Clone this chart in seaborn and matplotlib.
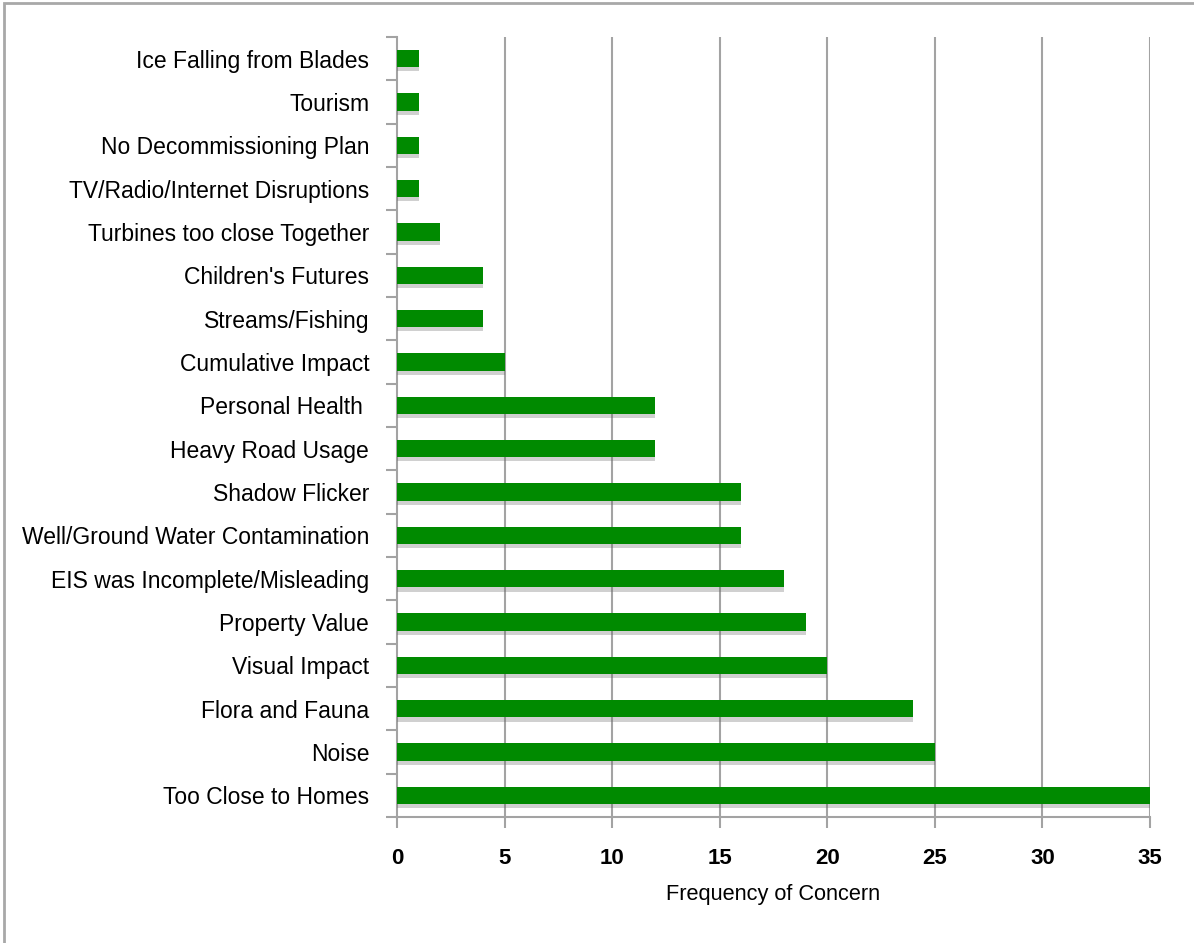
import matplotlib
matplotlib.use("Agg")
import matplotlib.pyplot as plt
import matplotlib.patheffects as pe
from matplotlib.ticker import FixedLocator
import seaborn as sns
import pandas as pd
import numpy as np

concerns = [
    "Ice Falling from Blades",
    "Tourism",
    "No Decommissioning Plan",
    "TV/Radio/Internet Disruptions",
    "Turbines too close Together",
    "Children's Futures",
    "Streams/Fishing",
    "Cumulative Impact",
    "Personal Health ",
    "Heavy Road Usage",
    "Shadow Flicker",
    "Well/Ground Water Contamination",
    "EIS was Incomplete/Misleading",
    "Property Value",
    "Visual Impact",
    "Flora and Fauna",
    "Noise",
    "Too Close to Homes",
]
frequency = [1, 1, 1, 1, 2, 4, 4, 5, 12, 12, 16, 16, 18, 19, 20, 24, 25, 35]
x_ticks = [0, 5, 10, 15, 20, 25, 30, 35]

df = pd.DataFrame({"concern": concerns, "frequency": frequency})

sns.set_style("white")
plt.rcParams["font.family"] = ["Liberation Sans", "DejaVu Sans"]
plt.rcParams["text.color"] = "black"
plt.rcParams["xtick.color"] = "black"
plt.rcParams["ytick.color"] = "black"
plt.rcParams["axes.labelcolor"] = "black"

fig = plt.figure(figsize=(11.94, 9.43), dpi=100)
ax = fig.add_axes([0.3325, 0.1336, 0.6306, 0.8272])

grid_color = "#a3a3a3"
for v in x_ticks[1:]:
    ax.axvline(v, color=grid_color, lw=1.5, zorder=0)

sns.barplot(data=df, y="concern", x="frequency", orient="h", color="#008a00",
            saturation=1, width=0.4, ax=ax, zorder=3)
# soft drop shadow under each bar
for p in ax.patches:
    p.set_linewidth(0)
    p.set_path_effects([pe.SimplePatchShadow(offset=(0, -3), shadow_rgbFace="#666666", alpha=0.3),
                        pe.Normal()])

ax.set_xlim(0, 35)
ax.set_ylim(len(concerns) - 0.5, -0.5)
ax.set_xticks(x_ticks)
ax.set_xticklabels([str(t) for t in x_ticks], fontsize=16, fontweight="bold")
ax.tick_params(axis="x", bottom=True, direction="out", length=8, width=1.5,
               color=grid_color, labelcolor="black", pad=14)

# tick marks sit between the categories
ax.yaxis.set_minor_locator(FixedLocator(np.arange(-0.5, len(concerns), 1.0)))
ax.tick_params(axis="y", which="major", left=True, length=0, pad=20, labelsize=16.5,
               labelcolor="black")
ax.tick_params(axis="y", which="minor", left=True, direction="out", length=8, width=1.5,
               color=grid_color)

ax.set_ylabel("")
ax.set_xlabel("Frequency of Concern", fontsize=15.7, labelpad=11)

for s in ["top", "right"]:
    ax.spines[s].set_visible(False)
for s in ["left", "bottom"]:
    ax.spines[s].set_color(grid_color)
    ax.spines[s].set_linewidth(1.5)

# outer frame
fig.patches.append(plt.Rectangle((0.003, -0.01), 1.05, 1.007, transform=fig.transFigure,
                                 fill=False, edgecolor="#a8a8a8", lw=2))

fig.savefig("out.png", dpi=100)
